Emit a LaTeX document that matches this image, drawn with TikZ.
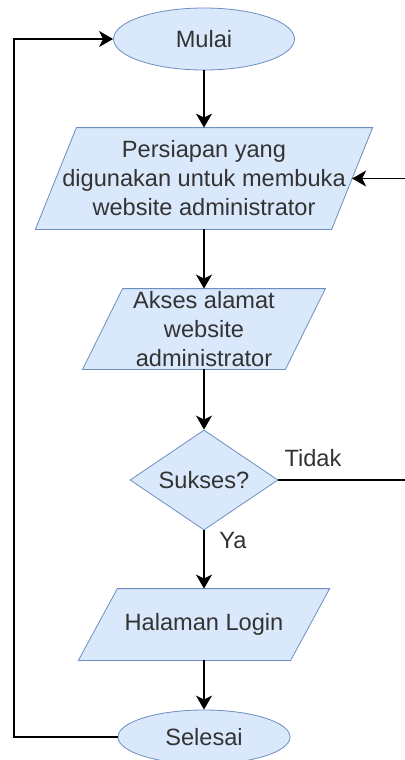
\documentclass[tikz,border=0pt]{standalone}
\usepackage{fontspec}
\setmainfont{Liberation Sans}
\usetikzlibrary{shapes.geometric,arrows.meta,backgrounds}
\definecolor{boxfill}{HTML}{DAE8FC}
\definecolor{boxline}{HTML}{6C8EBF}
\definecolor{txt}{HTML}{333333}

\begin{document}
\begin{tikzpicture}
    [x = .5pt, y = -.5pt, font = \fontsize{11.8}{14.5}\selectfont,
     terminal/.style = {ellipse, draw = boxline, fill = boxfill, text = txt, inner sep = 0pt},
     io/.style = {rectangle, align = center, text = txt, inner sep = 0pt},
     decision/.style = {diamond, draw = boxline, fill = boxfill, text = txt, inner sep = 0pt, aspect = 1.48},
     flow/.style = {-{Stealth[length = 7pt, width = 8pt, inset = 2pt]}, line width = .8pt},
     lbl/.style = {text = txt}]
    \useasboundingbox (0,0) rectangle (405,760);
    \node[terminal, minimum width = 90.5pt, minimum height = 31pt] (mulai) at (204,39) {Mulai};
    \node[io, minimum width = 147.75pt, minimum height = 50.5pt] (prep) at (204,178.5) {Persiapan yang\\digunakan untuk membuka\\website administrator};
    \node[io, minimum width = 101pt, minimum height = 40pt] (akses) at (204,329) {Akses alamat\\website\\administrator};
    \node[decision, minimum width = 74pt, minimum height = 50pt] (sukses) at (204,480) {Sukses?};
    \node[io, minimum width = 105.75pt, minimum height = 35.5pt] (login) at (204,624.5) {Halaman Login};
    \node[terminal, minimum width = 86pt, minimum height = 27pt] (selesai) at (204,737) {Selesai};
    \node[lbl] (tidak) at (313,458) {Tidak};
    \node[lbl] (ya) at (233,540) {Ya};
    % parallelograms behind the text
    \begin{scope}[on background layer]
      \foreach \n/\s in {prep/10.25pt, akses/10pt, login/9.75pt}
        \draw[draw = boxline, fill = boxfill] ([xshift = \s]\n.north west) -- ([xshift = \s]\n.north east)
          -- ([xshift = -\s]\n.south east) -- ([xshift = -\s]\n.south west) -- cycle;
    \end{scope}
    \foreach \from/\to in {mulai/prep, prep/akses, akses/sukses, sukses/login, login/selesai}
      \draw[flow] (\from) -- (\to);
    \coordinate (back) at (420,480);
    \coordinate (loop) at (14,737);
    \draw[flow] (sukses.east) -- (back) |- (prep.east);
    \draw[flow] (selesai.west) -- (loop) |- (mulai.west);
\end{tikzpicture}
\end{document}
